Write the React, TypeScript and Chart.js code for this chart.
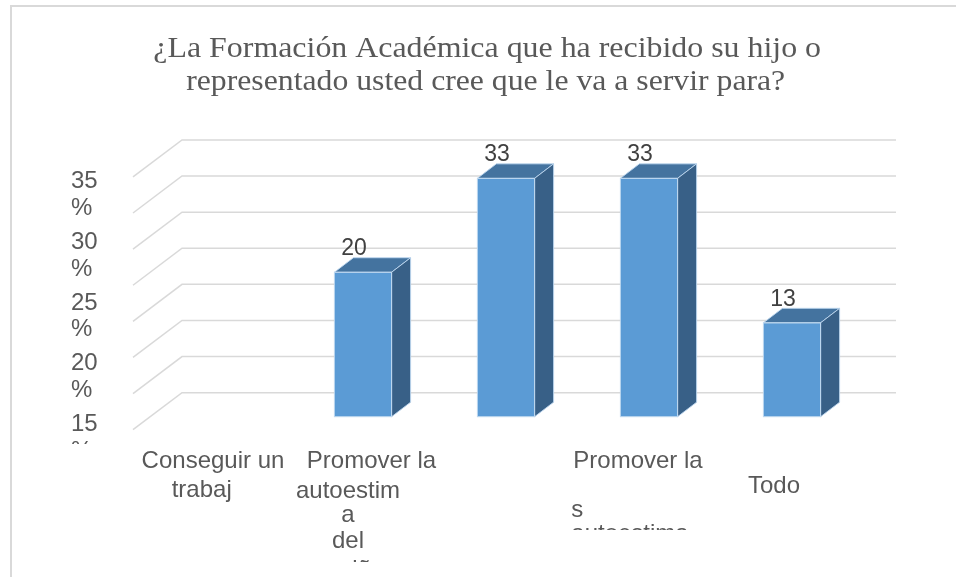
import React, { useEffect, useRef } from "react";
import Chart from "chart.js/auto";

// ---------- data ----------
const titleLines = [
  "¿La Formación Académica que ha recibido su hijo o",
  "representado usted cree que le va a servir para?",
];
const categories = [
  "Conseguir un trabajo",
  "Promover la autoestima del niño",
  "",
  "Promover la autoestima",
  "Todo",
];
const categoryLabelLines: string[][] = [
  ["Conseguir un", "trabaj"],
  ["Promover la", "autoestim", "a", "del", "niño"],
  [],
  ["Promover la", "s", "autoestima"],
  ["Todo"],
];
const values = [0, 20, 33, 33, 13];
const yTickLabels = ["35 %", "30 %", "25 %", "20 %", "15 %", "10 %"];
const yMin = 0;
const yMax = 35;
const yStep = 5;

// ---------- style / layout ----------
const W = 956;
const H = 577;
const FRONT = "#5B9BD5";
const TOP = "#44739F";
const SIDE = "#386087";
const GRID = "#D9D9D9";
const TEXT = "#595959";
const DLABEL = "#404040";
const SANS = '"Liberation Sans", Arial, sans-serif';
const SERIF = '"Liberation Serif", "Times New Roman", serif';
const DEPTH_DX = 19;
const DEPTH_DY = -14.5;
const WALL_FRONT = { dx: -15.5, dy: 13 };
const WALL_BACK = { dx: 33.5, dy: -24 };
const TITLE_LAYOUT = [
  { cx: 487.2, baseline: 57.3, width: 667.7 },
  { cx: 485.7, baseline: 90, width: 599 },
];

type LineLayout = { dx: number; dy: number; align: CanvasTextAlign };
const xLabelLayout: LineLayout[][] = [
  [
    { dx: -7, dy: 51.6, align: "center" },
    { dx: -48.3, dy: 80.6, align: "left" },
  ],
  [
    { dx: 8.5, dy: 51.6, align: "center" },
    { dx: -15, dy: 81.3, align: "center" },
    { dx: -15, dy: 105, align: "center" },
    { dx: -15, dy: 131.6, align: "center" },
    { dx: -1.3, dy: 159.8, align: "center" },
  ],
  [],
  [
    { dx: -11, dy: 51.6, align: "center" },
    { dx: -77.7, dy: 100, align: "left" },
    { dx: -77.7, dy: 124.1, align: "left" },
  ],
  [{ dx: -18, dy: 76.6, align: "center" }],
];
const xLabelClipBottom = [577, 562, 577, 530, 577];

const plugin3D = {
  id: "plugin3D",
  beforeDraw(chart: any) {
    const ctx = chart.ctx as CanvasRenderingContext2D;
    ctx.save();
    ctx.fillStyle = "#ffffff";
    ctx.fillRect(0, 0, W, H);
    ctx.strokeStyle = GRID;
    ctx.lineWidth = 2;
    ctx.beginPath();
    ctx.moveTo(11, H + 5);
    ctx.lineTo(11, 6);
    ctx.lineTo(W + 5, 6);
    ctx.stroke();
    ctx.restore();
  },
  beforeDatasetsDraw(chart: any) {
    const ctx = chart.ctx as CanvasRenderingContext2D;
    const { left, right } = chart.chartArea;
    const y = chart.scales.y;
    ctx.save();
    ctx.strokeStyle = GRID;
    ctx.lineWidth = 1.5;
    for (let v = yMin; v <= yMax; v += yStep) {
      const py = y.getPixelForValue(v);
      ctx.beginPath();
      ctx.moveTo(left + WALL_FRONT.dx, py + WALL_FRONT.dy);
      ctx.lineTo(left + WALL_BACK.dx, py + WALL_BACK.dy);
      ctx.lineTo(right + WALL_BACK.dx - 1, py + WALL_BACK.dy);
      ctx.stroke();
    }
    ctx.restore();
  },
  afterDatasetsDraw(chart: any) {
    const ctx = chart.ctx as CanvasRenderingContext2D;
    const { top, bottom } = chart.chartArea;
    const meta = chart.getDatasetMeta(0);
    const xs = chart.scales.x;
    ctx.save();
    // 3D faces
    meta.data.forEach((bar: any, i: number) => {
      if (!values[i]) return;
      const { x, y, base, width } = bar.getProps(["x", "y", "base", "width"], true);
      const x1 = x - width / 2;
      const x2 = x + width / 2;
      ctx.lineWidth = 1;
      ctx.strokeStyle = "rgba(190,215,240,0.9)";
      // top
      ctx.fillStyle = TOP;
      ctx.beginPath();
      ctx.moveTo(x1, y);
      ctx.lineTo(x2, y);
      ctx.lineTo(x2 + DEPTH_DX, y + DEPTH_DY);
      ctx.lineTo(x1 + DEPTH_DX, y + DEPTH_DY);
      ctx.closePath();
      ctx.fill();
      ctx.stroke();
      // side
      ctx.fillStyle = SIDE;
      ctx.beginPath();
      ctx.moveTo(x2, y);
      ctx.lineTo(x2 + DEPTH_DX, y + DEPTH_DY);
      ctx.lineTo(x2 + DEPTH_DX, base + DEPTH_DY);
      ctx.lineTo(x2, base);
      ctx.closePath();
      ctx.fill();
      ctx.stroke();
      // front outline
      ctx.strokeRect(x1, y, width, base - y);
      // data label
      ctx.fillStyle = DLABEL;
      ctx.font = `23px ${SANS}`;
      ctx.textAlign = "center";
      ctx.textBaseline = "alphabetic";
      ctx.fillText(String(values[i]), x - 9, y - 17);
    });

    // y-axis labels (wrapped)
    ctx.save();
    ctx.beginPath();
    ctx.rect(0, 0, 130, 444);
    ctx.clip();
    ctx.fillStyle = TEXT;
    ctx.font = `24px ${SANS}`;
    ctx.textAlign = "left";
    ctx.textBaseline = "alphabetic";
    yTickLabels.forEach((lab, i) => {
      const parts = lab.split(" ");
      const b = top + 24.4 + 60.7 * i;
      parts.forEach((p, j) => ctx.fillText(p, 71, b + 26.5 * j));
    });
    ctx.restore();

    // x-axis labels
    ctx.fillStyle = TEXT;
    ctx.font = `24px ${SANS}`;
    ctx.textBaseline = "alphabetic";
    categoryLabelLines.forEach((lines, i) => {
      const cx = xs.getPixelForValue(i);
      ctx.save();
      ctx.beginPath();
      ctx.rect(0, 0, W, xLabelClipBottom[i]);
      ctx.clip();
      lines.forEach((t, j) => {
        const l = xLabelLayout[i][j];
        ctx.textAlign = l.align;
        ctx.fillText(t, cx + l.dx, bottom + l.dy);
      });
      ctx.restore();
    });

    // title (fitted to the reference's line widths)
    ctx.fillStyle = TEXT;
    ctx.font = `30px ${SERIF}`;
    ctx.textAlign = "center";
    titleLines.forEach((t, i) => {
      const L = TITLE_LAYOUT[i];
      const w = ctx.measureText(t).width;
      const sx = L.width / w;
      ctx.save();
      ctx.translate(L.cx, L.baseline);
      ctx.scale(sx, 1);
      ctx.fillText(t, 0, 0);
      ctx.restore();
    });
    ctx.restore();
  },
};

export default function App() {
  const ref = useRef<HTMLCanvasElement | null>(null);
  useEffect(() => {
    if (!ref.current) return;
    const chart = new Chart(ref.current, {
      type: "bar",
      data: {
        labels: categories,
        datasets: [
          {
            data: values,
            backgroundColor: FRONT,
            borderWidth: 0,
            barPercentage: 0.4,
            categoryPercentage: 1,
          },
        ],
      },
      options: {
        responsive: false,
        animation: false,
        devicePixelRatio: 1,
        layout: { padding: { left: 148.5, right: 92.5, top: 163.9, bottom: 160.3 } },
        plugins: { legend: { display: false }, tooltip: { enabled: false }, title: { display: false } },
        scales: {
          x: { display: false, grid: { display: false } },
          y: { display: false, min: yMin, max: yMax, grid: { display: false } },
        },
      },
      plugins: [plugin3D],
    });
    return () => chart.destroy();
  }, []);
  return (
    <div style={{ position: "fixed", left: 0, top: 0, width: W, height: H, background: "#fff" }}>
      <canvas ref={ref} width={W} height={H} style={{ display: "block", width: W, height: H }} />
    </div>
  );
}
